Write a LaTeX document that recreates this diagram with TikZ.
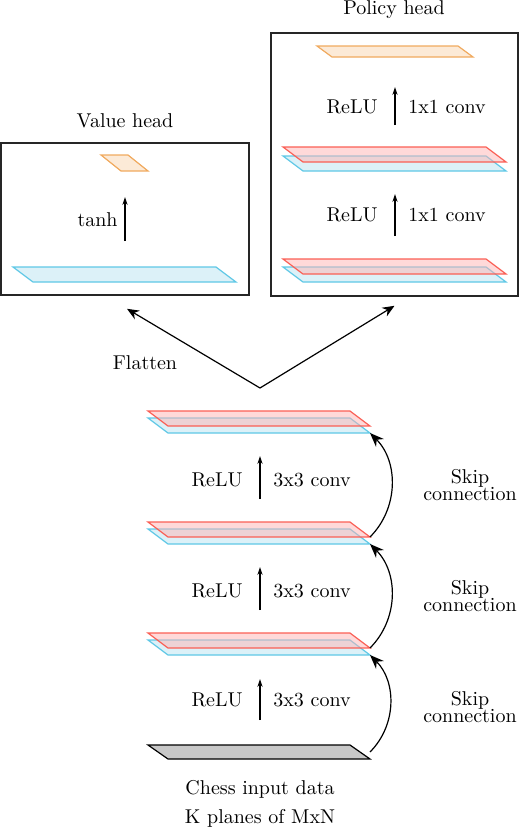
\documentclass[tikz,border=0pt]{standalone}
\usepackage{tikz}
\usepackage{xcolor}
\usetikzlibrary{arrows.meta}
\definecolor{planeBlue}{RGB}{95, 200, 230}
\definecolor{planeBlueFill}{RGB}{220, 241, 248}
\definecolor{planeRed}{RGB}{250, 95, 85}
\definecolor{planeRedFill}{RGB}{255, 180, 180}
\definecolor{planeOrange}{RGB}{240, 170, 95}
\definecolor{planeOrangeFill}{RGB}{252, 234, 215}
\definecolor{planeGray}{RGB}{200, 200, 200}

% plane: style, corner name, top-left x, top-left y, width, skew, height
\newcommand{\plane}[7]{\draw[#1] (#3,#4) -- ++(#5,0) -- ++(#6,-#7) coordinate (#2) -- ++(-#5,0) -- cycle;}

\begin{document}
\begin{tikzpicture}[x=0.5pt, y=0.5pt]
            % Styles
            \tikzstyle{blueplane} = [draw=planeBlue, fill=planeBlueFill, line width=0.6pt]
            \tikzstyle{redplane} = [draw=planeRed, fill=planeRedFill, fill opacity=0.5, line width=0.6pt]
            \tikzstyle{orangeplane} = [draw=planeOrange, fill=planeOrangeFill, line width=0.6pt]
            \tikzstyle{inputplane} = [draw=black, fill=planeGray, line width=0.6pt]
            \tikzstyle{headbox} = [rectangle, draw=black!85, thick]
            \tikzstyle{skiplabel} = [align=center]
            \tikzstyle{act} = [-{Stealth[length=4pt, width=2.6pt]}, semithick]
            \tikzstyle{skiparrow} = [-{Stealth[length=7pt, width=5.5pt]}, semithick]
            \tikzstyle{flow} = [-{Stealth[length=6pt, width=5pt]}, semithick]

            \useasboundingbox (0,0) rectangle (520,-830);

            % Value head
            \node[headbox, minimum width=124pt, minimum height=76pt] (valuebox) at (125,-219) {};
            \node (valuetitle) at (125,-121) {Value head};
            \plane{blueplane}{vblue}{13}{-267}{203}{20}{15}
            \plane{orangeplane}{vout}{101}{-155}{27}{20}{16}
            \coordinate (vtail) at (125,-241);
            \coordinate (vtip) at (125,-197);
            \node[anchor=east, inner sep=0] (tanh) at (118,-220) {tanh};

            % Policy head
            \node[headbox, minimum width=123.5pt, minimum height=131.5pt] (policybox) at (394.5,-164.5) {};
            \node (policytitle) at (394,-9.5) {Policy head};
            \plane{blueplane}{pb1}{283}{-267}{203}{20}{15}
            \plane{redplane}{pr1}{283}{-259}{203}{20}{15}
            \plane{blueplane}{pb2}{283}{-156}{203}{20}{15}
            \plane{redplane}{pr2}{283}{-147}{203}{20}{15}
            \plane{orangeplane}{pout}{317}{-46}{141}{15}{11}
            \coordinate (ptail1) at (395,-236);
            \coordinate (ptip1) at (395,-194);
            \coordinate (ptail2) at (395,-125);
            \coordinate (ptip2) at (395,-87);
            \node[anchor=east, inner sep=0] (prelu1) at (378,-215) {ReLU};
            \node[anchor=west, inner sep=0] (pconv1) at (408,-215) {1x1 conv};
            \node[anchor=east, inner sep=0] (prelu2) at (378,-107) {ReLU};
            \node[anchor=west, inner sep=0] (pconv2) at (408,-107) {1x1 conv};

            % Residual tower
            \plane{inputplane}{in0}{148}{-745}{202}{20}{14}
            \plane{blueplane}{b1}{148}{-640}{202}{20}{15}
            \plane{redplane}{r1}{148}{-633}{202}{20}{15}
            \plane{blueplane}{b2}{148}{-529}{202}{20}{15}
            \plane{redplane}{r2}{148}{-522}{202}{20}{15}
            \plane{blueplane}{b3}{148}{-418}{202}{20}{15}
            \plane{redplane}{r3}{148}{-411}{202}{20}{15}
            \coordinate (tail1) at (260,-720);
            \coordinate (tip1) at (260,-679);
            \coordinate (tail2) at (260,-610);
            \coordinate (tip2) at (260,-567);
            \coordinate (tail3) at (260,-499);
            \coordinate (tip3) at (260,-456);
            \node[anchor=east, inner sep=0] (relu1) at (243,-700) {ReLU};
            \node[anchor=west, inner sep=0] (conv1) at (273,-700) {3x3 conv};
            \node[anchor=east, inner sep=0] (relu2) at (243,-591) {ReLU};
            \node[anchor=west, inner sep=0] (conv2) at (273,-591) {3x3 conv};
            \node[anchor=east, inner sep=0] (relu3) at (243,-480) {ReLU};
            \node[anchor=west, inner sep=0] (conv3) at (273,-480) {3x3 conv};
            \node[skiplabel] (skip1) at (470,-707) {Skip\\[-3.5pt]connection};
            \node[skiplabel] (skip2) at (470,-596) {Skip\\[-3.5pt]connection};
            \node[skiplabel] (skip3) at (470,-485) {Skip\\[-3.5pt]connection};
            \node[anchor=base] (inputlabel) at (260,-794) {Chess input data};
            \node[anchor=base] (planeslabel) at (260,-823) {K planes of MxN};

            % Flatten
            \coordinate (flat) at (260,-388);
            \node (flatten) at (145,-363) {Flatten};

            % Arrows
            \draw[act] (vtail) -- (vtip);
            \draw[act] (ptail1) -- (ptip1);
            \draw[act] (ptail2) -- (ptip2);
            \draw[act] (tail1) -- (tip1);
            \draw[act] (tail2) -- (tip2);
            \draw[act] (tail3) -- (tip3);
            \draw[skiparrow] ([yshift=3.5pt]in0) to[bend right=45] (b1);
            \draw[skiparrow] (r1) to[bend right=45] (b2);
            \draw[skiparrow] (r2) to[bend right=45] (b3);
            \draw[flow] (flat) -- ([xshift=1pt, yshift=-6.5pt]valuebox.south);
            \draw[flow] (flat) -- ([yshift=-4.5pt]policybox.south);
        \end{tikzpicture}
\end{document}
